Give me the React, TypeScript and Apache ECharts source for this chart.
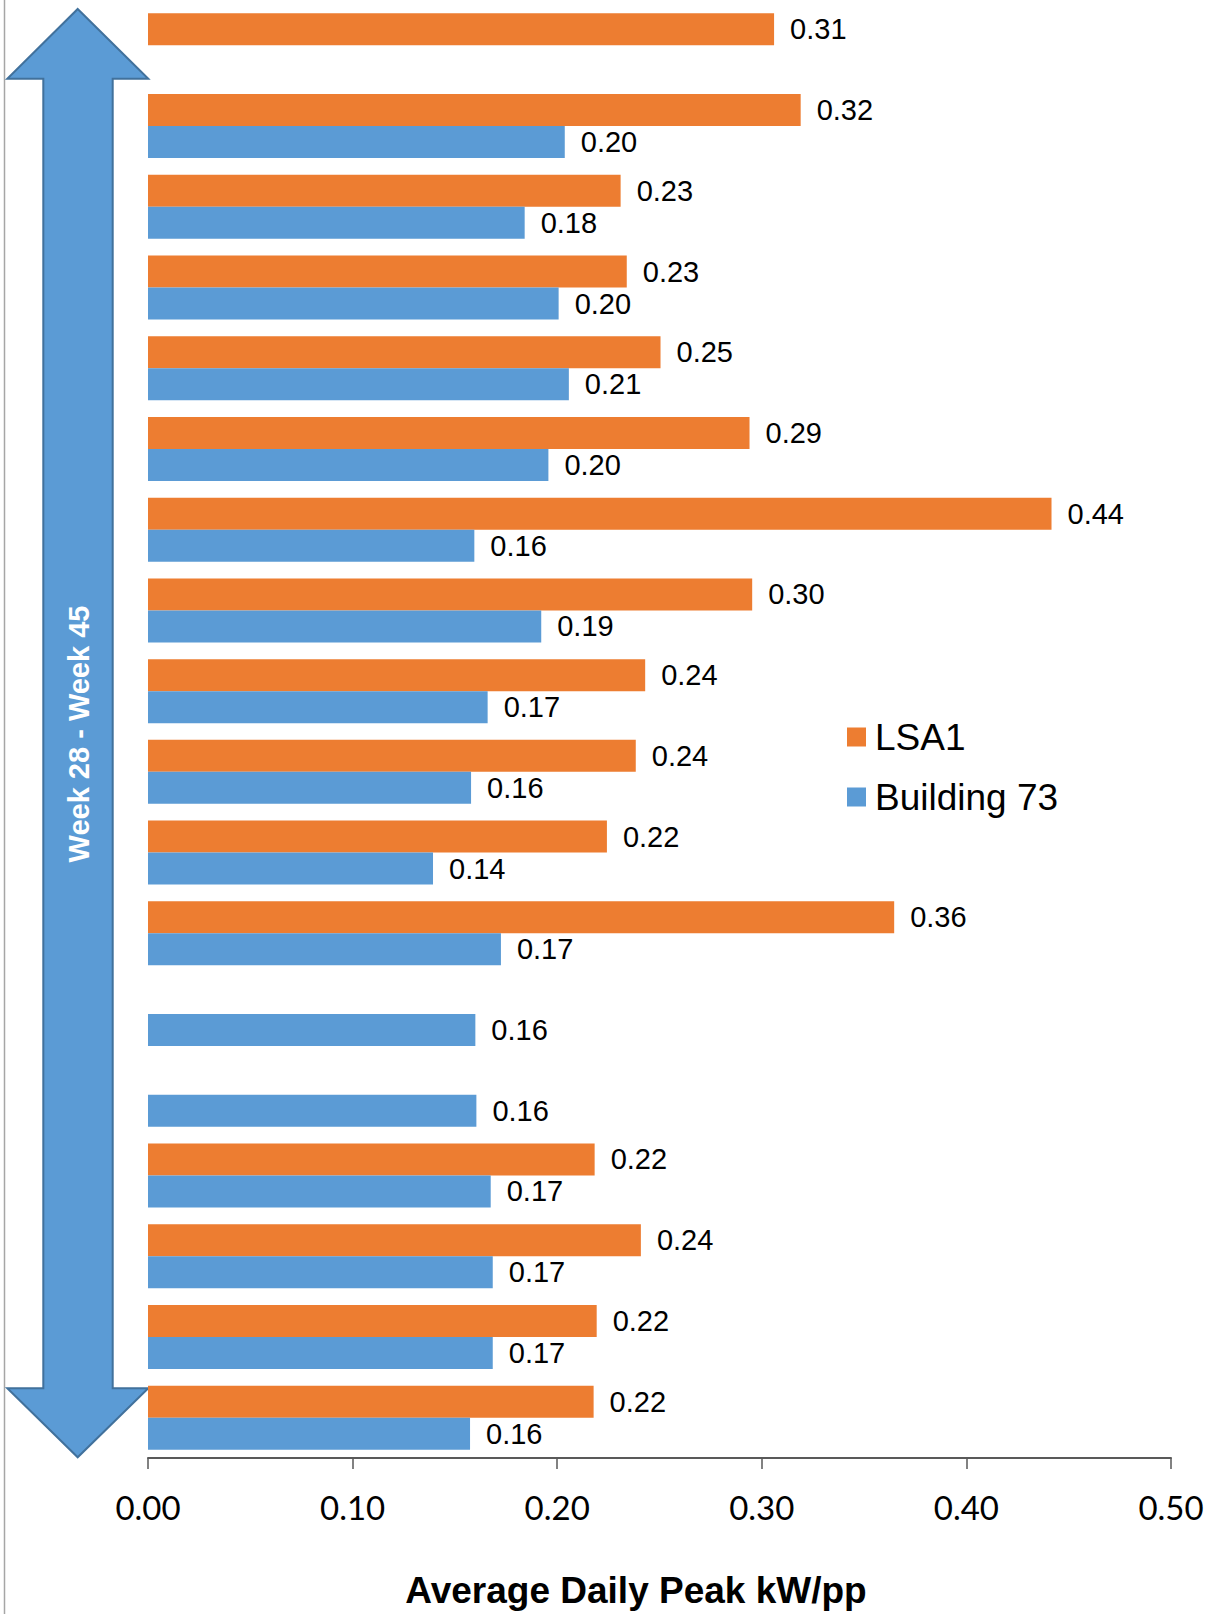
import React, { useEffect, useRef } from "react";
import * as echarts from "echarts";

const weeks = [
  "Week 28", "Week 29", "Week 30", "Week 31", "Week 32", "Week 33",
  "Week 34", "Week 35", "Week 36", "Week 37", "Week 38", "Week 39",
  "Week 40", "Week 41", "Week 42", "Week 43", "Week 44", "Week 45",
];
const lsa1: (number | null)[] = [
  0.306, 0.319, 0.231, 0.234, 0.2505, 0.294, 0.4416, 0.2953, 0.243,
  0.2384, 0.2243, 0.3647, null, null, 0.2183, 0.2409, 0.2193, 0.2178,
];
const building73: (number | null)[] = [
  null, 0.2037, 0.1841, 0.2007, 0.2057, 0.1957, 0.1595, 0.1922, 0.166,
  0.1579, 0.1393, 0.1725, 0.16, 0.1605, 0.1675, 0.1685, 0.1685, 0.1574,
];
const xTicks = [0, 0.1, 0.2, 0.3, 0.4, 0.5];
const seriesNames = ["LSA1", "Building 73"];
const arrowText = "Week 28 - Week 45";
const axisTitle = "Average Daily Peak kW/pp";

const ORANGE = "#ED7D31";
const BLUE = "#5B9BD5";

export default function App() {
  const ref = useRef<HTMLDivElement>(null);
  useEffect(() => {
    document.body.style.margin = "0";
    if (!ref.current) return;
    const chart = echarts.init(ref.current, undefined, { renderer: "svg" });
    const labelCfg = {
      show: true,
      position: "right" as const,
      distance: 16,
      fontSize: 29,
      fontFamily: "Liberation Sans",
      color: "#000",
      formatter: (p: any) => (p.value == null ? "" : Number(p.value).toFixed(2)),
    };
    chart.setOption({
      animation: false,
      backgroundColor: "#fff",
      grid: { left: 148, right: 39, top: 5, bottom: 155, containLabel: false },
      legend: {
        orient: "vertical",
        left: 847,
        top: 717,
        padding: 0,
        itemWidth: 19,
        itemHeight: 19,
        itemGap: 20,
        icon: "rect",
        data: seriesNames,
        textStyle: {
          fontSize: 37,
          lineHeight: 40,
          fontFamily: "Liberation Sans",
          color: "#000",
          padding: [0, 0, 0, 4],
        },
      },
      xAxis: {
        type: "value",
        min: xTicks[0],
        max: xTicks[xTicks.length - 1],
        interval: 0.1,
        splitLine: { show: false },
        axisLine: { show: true, lineStyle: { color: "#595959", width: 2 } },
        axisTick: { show: true, length: 11, lineStyle: { color: "#595959", width: 1.5 } },
        axisLabel: {
          margin: 32,
          fontSize: 33,
          fontFamily: "Lato",
          color: "#000",
          formatter: (v: number) => v.toFixed(2),
        },
        name: axisTitle,
        nameLocation: "middle",
        nameGap: 114,
        nameTextStyle: {
          fontSize: 37,
          fontWeight: "bold",
          fontFamily: "Liberation Sans",
          color: "#000",
          padding: [0, 47, 0, 0],
        },
      },
      yAxis: {
        type: "category",
        data: weeks,
        inverse: true,
        axisLine: { show: false },
        axisTick: { show: false },
        axisLabel: { show: false },
        splitLine: { show: false },
      },
      series: [
        {
          name: seriesNames[0],
          type: "bar",
          data: lsa1,
          barWidth: 32,
          barGap: "0%",
          itemStyle: { color: ORANGE },
          label: labelCfg,
        },
        {
          name: seriesNames[1],
          type: "bar",
          data: building73,
          barWidth: 32,
          barGap: "0%",
          itemStyle: { color: BLUE },
          label: labelCfg,
        },
      ],
      graphic: [
        {
          type: "line",
          shape: { x1: 4.5, y1: 0, x2: 4.5, y2: 1614 },
          style: { stroke: "#a6a6a6", lineWidth: 1.5 },
          silent: true,
        },
        {
          type: "polygon",
          shape: {
            points: [
              [77.7, 9],
              [148.3, 78.7],
              [112.7, 78.7],
              [112.7, 1388.3],
              [148.3, 1388.3],
              [77.7, 1457.3],
              [7.3, 1388.3],
              [43.3, 1388.3],
              [43.3, 78.7],
              [7.3, 78.7],
            ],
          },
          style: { fill: BLUE, stroke: "#41719C", lineWidth: 2 },
          silent: true,
        },
        {
          type: "text",
          x: 79,
          y: 734,
          rotation: Math.PI / 2,
          style: {
            text: arrowText,
            fill: "#fff",
            fontSize: 29,
            fontWeight: "bold",
            fontFamily: "Liberation Sans",
            align: "center",
            verticalAlign: "middle",
          },
          silent: true,
        },
      ],
    });
    return () => chart.dispose();
  }, []);
  return <div ref={ref} style={{ width: 1210, height: 1614 }} />;
}
